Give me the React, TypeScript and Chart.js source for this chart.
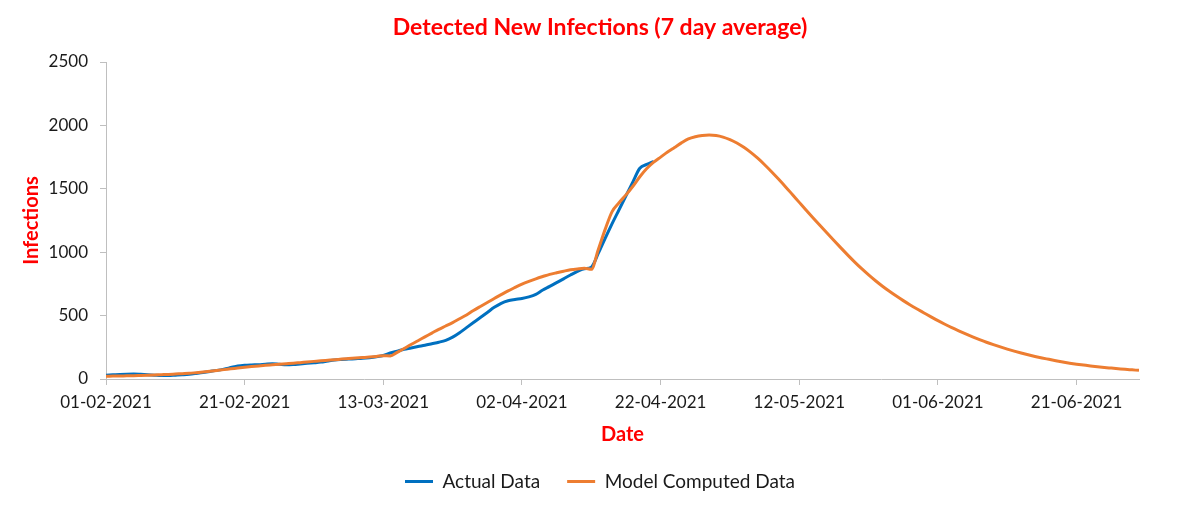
import React, { useEffect, useRef } from "react";
import { Chart, registerables } from "chart.js";

Chart.register(...registerables);

// Days since 01-02-2021 at which x ticks are labelled
const xTickDays = [0, 20, 40, 60, 80, 100, 120, 140];
const xTickLabels = [
  "01-02-2021",
  "21-02-2021",
  "13-03-2021",
  "02-04-2021",
  "22-04-2021",
  "12-05-2021",
  "01-06-2021",
  "21-06-2021",
];
const yTicks = [0, 500, 1000, 1500, 2000, 2500];

// Actual data, day 0 (01-02-2021) .. day 79
const actualData = [
  30, 33, 36, 38, 39, 37, 34, 30, 27, 27,
  30, 33, 37, 44, 52, 60, 68, 78, 90, 102,
  108, 111, 113, 117, 120, 116, 112, 114, 119, 124,
  128, 133, 142, 150, 154, 157, 160, 163, 168, 175,
  185, 205, 220, 235, 245, 256, 266, 278, 290, 305,
  330, 365, 405, 445, 485, 525, 565, 597, 617, 627,
  635, 648, 668, 702, 730, 760, 790, 820, 848, 870,
  882, 990, 1110, 1225, 1335, 1445, 1555, 1662, 1692, 1716,
];

// Model computed data, day 0 .. day 149 (30-06-2021)
const modelData = [
  22, 23, 24, 25, 26, 28, 30, 32, 34, 36,
  39, 42, 45, 50, 55, 61, 67, 74, 80, 87,
  93, 98, 103, 108, 112, 116, 120, 124, 129, 134,
  139, 144, 148, 152, 157, 161, 165, 169, 173, 178,
  184, 182, 210, 240, 272, 302, 332, 362, 392, 418,
  445, 475, 505, 540, 572, 603, 635, 665, 695, 722,
  748, 770, 790, 808, 825, 838, 850, 861, 868, 873,
  865, 1020, 1180, 1320, 1390, 1452, 1520, 1595, 1660, 1710,
  1750, 1790, 1826, 1862, 1893, 1910, 1920, 1924, 1920, 1908,
  1888, 1861, 1827, 1787, 1741, 1690, 1635, 1577, 1517, 1455,
  1393, 1331, 1270, 1210, 1151, 1092, 1034, 977, 922, 870,
  821, 775, 732, 692, 654, 618, 584, 552, 521, 490,
  460, 432, 405, 380, 356, 333, 311, 290, 271, 253,
  236, 220, 205, 191, 178, 166, 155, 144, 134, 125,
  117, 110, 103, 97, 91, 86, 81, 76, 72, 68,
];

const BLUE = "#0070C0";
const ORANGE = "#ED7D31";
const RED = "#FF0000";
const AXIS = "#BFBFBF";
const TEXT = "#1a1a1a";

export default function App() {
  const ref = useRef<HTMLCanvasElement | null>(null);

  useEffect(() => {
    document.body.style.margin = "0";
    document.body.style.overflow = "hidden";
    if (!ref.current) return;
    Chart.defaults.font.family = "Lato, 'Noto Sans', sans-serif";

    const chart = new Chart(ref.current, {
      type: "line",
      data: {
        datasets: [
          {
            label: "Actual Data",
            data: actualData.map((v, i) => ({ x: i, y: v })),
            borderColor: BLUE,
            backgroundColor: BLUE,
            borderWidth: 3,
            pointRadius: 0,
            cubicInterpolationMode: "monotone",
            order: 1,
          },
          {
            label: "Model Computed Data",
            data: modelData.map((v, i) => ({ x: i, y: v })),
            borderColor: ORANGE,
            backgroundColor: ORANGE,
            borderWidth: 3,
            pointRadius: 0,
            cubicInterpolationMode: "monotone",
            order: 0,
          },
        ],
      },
      options: {
        animation: false,
        responsive: false,
        layout: { padding: { left: 0, right: 0, top: 0, bottom: 7 } },
        plugins: {
          title: {
            display: true,
            text: "Detected New Infections (7 day average)",
            color: RED,
            font: { size: 23, weight: "bold", lineHeight: 1.2 },
            padding: { top: 14, bottom: 20.4 },
          },
          legend: {
            position: "bottom",
            labels: {
              color: TEXT,
              font: { size: 19 },
              boxWidth: 28,
              boxHeight: 3,
              padding: 27,
              sort: (a: any, b: any) => a.datasetIndex - b.datasetIndex,
              generateLabels: (c: any) => {
                const items = Chart.defaults.plugins.legend.labels.generateLabels(c);
                items.forEach((it: any) => {
                  it.lineWidth = 0;
                });
                return items;
              },
            },
          },
          tooltip: { enabled: false },
        },
        scales: {
          x: {
            type: "linear",
            min: 0,
            max: modelData.length - 1,
            afterBuildTicks: (scale: any) => {
              scale.ticks = xTickDays.map((v) => ({ value: v }));
            },
            afterFit: (scale: any) => {
              scale.height = 66;
            },
            ticks: {
              color: TEXT,
              font: { size: 17 },
              padding: 7,
              maxRotation: 0,
              autoSkip: false,
              callback: (v: any) => {
                const i = xTickDays.indexOf(Number(v));
                return i >= 0 ? xTickLabels[i] : "";
              },
            },
            grid: {
              display: true,
              drawOnChartArea: false,
              drawTicks: true,
              tickLength: 6,
              color: AXIS,
            },
            border: { display: true, color: AXIS, width: 1 },
            title: {
              display: true,
              text: "Date",
              color: RED,
              font: { size: 20, weight: "bold", lineHeight: 1 },
              padding: { top: 0, bottom: 0 },
            },
          },
          y: {
            type: "linear",
            min: 0,
            max: 2500,
            afterBuildTicks: (scale: any) => {
              scale.ticks = yTicks.map((v) => ({ value: v }));
            },
            afterFit: (scale: any) => {
              scale.width = 106;
            },
            ticks: {
              color: TEXT,
              font: { size: 17 },
              padding: 12,
              callback: (v: any) => String(v),
            },
            grid: {
              display: true,
              drawOnChartArea: false,
              drawTicks: true,
              tickLength: 6,
              color: AXIS,
            },
            border: { display: true, color: AXIS, width: 1 },
            title: {
              display: true,
              text: "Infections",
              color: RED,
              font: { size: 20, weight: "bold", lineHeight: 1 },
              padding: { top: 22, bottom: 0 },
            },
          },
          // invisible spacer on the right so the plot ends where the reference does
          yRight: {
            type: "linear",
            position: "right",
            display: true,
            min: 0,
            max: 2500,
            afterFit: (scale: any) => {
              scale.width = 61;
            },
            ticks: { display: false },
            grid: { display: false, drawTicks: false },
            border: { display: false },
            title: { display: false },
          },
        },
      },
    });

    return () => chart.destroy();
  }, []);

  return (
    <div style={{ width: 1200, height: 508, background: "#fff" }}>
      <canvas ref={ref} width={1200} height={508} style={{ display: "block" }} />
    </div>
  );
}
